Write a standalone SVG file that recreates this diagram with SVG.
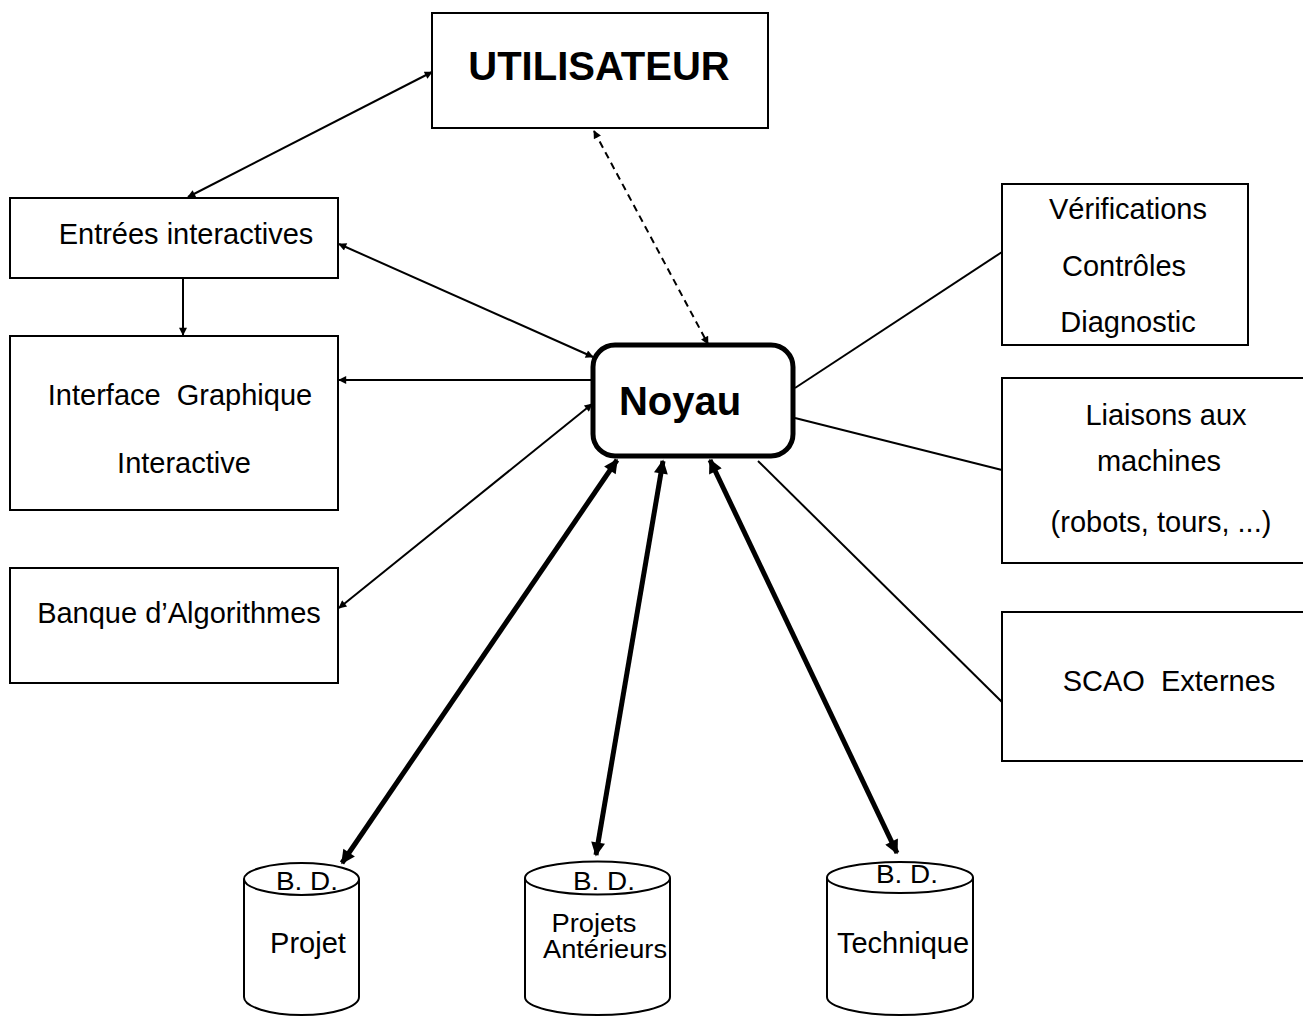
<svg xmlns="http://www.w3.org/2000/svg" width="1303" height="1017" viewBox="0 0 1303 1017">
<style>
.box{fill:#fff;stroke:#000;stroke-width:2}
.t{font-family:"Liberation Sans",Arial,sans-serif;font-size:29px;fill:#000;text-anchor:middle}
.b{font-weight:bold;font-size:40px}
.sm{font-size:25px}
.c{fill:none;stroke:#000;stroke-width:2}
.thick{fill:none;stroke:#000;stroke-width:5}
.cyl{fill:#fff;stroke:#000;stroke-width:2}
</style>
<defs>
<marker id="s" viewBox="0 0 10 10" refX="9" refY="5" markerWidth="10" markerHeight="8" markerUnits="userSpaceOnUse" orient="auto-start-reverse"><path d="M0,0 L10,5 L0,10 z" fill="#000"/></marker>
<marker id="big" viewBox="0 0 10 10" refX="9" refY="5" markerWidth="18" markerHeight="14" markerUnits="userSpaceOnUse" orient="auto-start-reverse"><path d="M0,0 L10,5 L0,10 z" fill="#000"/></marker>
</defs>
<g id="utilisateur"><rect class="box" x="432" y="13" width="336" height="115"/><text class="t b" x="599" y="80">UTILISATEUR</text></g>
<g id="entrees"><rect class="box" x="10" y="198" width="328" height="80"/><text class="t" x="186" y="244">Entrées interactives</text></g>
<g id="interface"><rect class="box" x="10" y="336" width="328" height="174"/><text class="t" x="180" y="405" xml:space="preserve">Interface  Graphique</text><text class="t" x="184" y="473">Interactive</text></g>
<g id="banque"><rect class="box" x="10" y="568" width="328" height="115"/><text class="t" x="179" y="623">Banque d’Algorithmes</text></g>
<g id="noyau"><rect x="593" y="345" width="200" height="111" rx="22" fill="#fff" stroke="#000" stroke-width="5"/><text class="t b" x="680" y="415">Noyau</text></g>
<g id="verifications"><rect class="box" x="1002" y="184" width="246" height="161"/><text class="t" x="1128" y="219">Vérifications</text><text class="t" x="1124" y="276">Contrôles</text><text class="t" x="1128" y="332">Diagnostic</text></g>
<g id="liaisons"><rect class="box" x="1002" y="378" width="310" height="185"/><text class="t" x="1166" y="425">Liaisons aux</text><text class="t" x="1159" y="471">machines</text><text class="t" x="1161" y="532">(robots, tours, ...)</text></g>
<g id="scao"><rect class="box" x="1002" y="612" width="310" height="149"/><text class="t" x="1169" y="691" xml:space="preserve">SCAO  Externes</text></g>
<g id="bd-projet">
<path class="cyl" d="M244,879 L244,997 A57.5,18 0 0 0 359,997 L359,879"/>
<ellipse class="cyl" cx="301.5" cy="879" rx="57.5" ry="16"/>
<text class="t sm" x="307" y="890" textLength="62" lengthAdjust="spacingAndGlyphs">B. D.</text>
<text class="t" x="308" y="953">Projet</text>
</g>
<g id="bd-anterieurs">
<path class="cyl" d="M525,878 L525,997 A72.5,18 0 0 0 670,997 L670,878"/>
<ellipse class="cyl" cx="597.5" cy="878" rx="72.5" ry="16.5"/>
<text class="t sm" x="604" y="890" textLength="62" lengthAdjust="spacingAndGlyphs">B. D.</text>
<text class="t sm" x="594" y="932" textLength="85" lengthAdjust="spacingAndGlyphs">Projets</text>
<text class="t sm" x="605" y="958" textLength="124" lengthAdjust="spacingAndGlyphs">Antérieurs</text>
</g>
<g id="bd-technique">
<path class="cyl" d="M827,877.5 L827,997 A73,18 0 0 0 973,997 L973,877.5"/>
<ellipse class="cyl" cx="900" cy="877.5" rx="73" ry="15.5"/>
<text class="t sm" x="907" y="883" textLength="62" lengthAdjust="spacingAndGlyphs">B. D.</text>
<text class="t" x="903" y="953">Technique</text>
</g>
<g id="connectors">
<line class="c" x1="432" y1="72" x2="188" y2="197" marker-start="url(#s)" marker-end="url(#s)"/>
<line class="c" x1="594" y1="131" x2="708" y2="344" stroke-dasharray="7,5" marker-start="url(#s)" marker-end="url(#s)"/>
<line class="c" x1="339" y1="244" x2="593" y2="357" marker-start="url(#s)" marker-end="url(#s)"/>
<line class="c" x1="591" y1="380" x2="339" y2="380" marker-end="url(#s)"/>
<line class="c" x1="183" y1="278" x2="183" y2="335" marker-end="url(#s)"/>
<line class="c" x1="339" y1="608" x2="592" y2="404" marker-start="url(#s)" marker-end="url(#s)"/>
<line class="c" x1="795" y1="388" x2="1002" y2="252"/>
<line class="c" x1="795" y1="418" x2="1002" y2="470"/>
<line class="c" x1="758" y1="461" x2="1002" y2="702"/>
<line class="thick" x1="342" y1="863" x2="617" y2="460" marker-start="url(#big)" marker-end="url(#big)"/>
<line class="thick" x1="596" y1="855" x2="663" y2="461" marker-start="url(#big)" marker-end="url(#big)"/>
<line class="thick" x1="897" y1="853" x2="710" y2="460" marker-start="url(#big)" marker-end="url(#big)"/>
</g>
</svg>
